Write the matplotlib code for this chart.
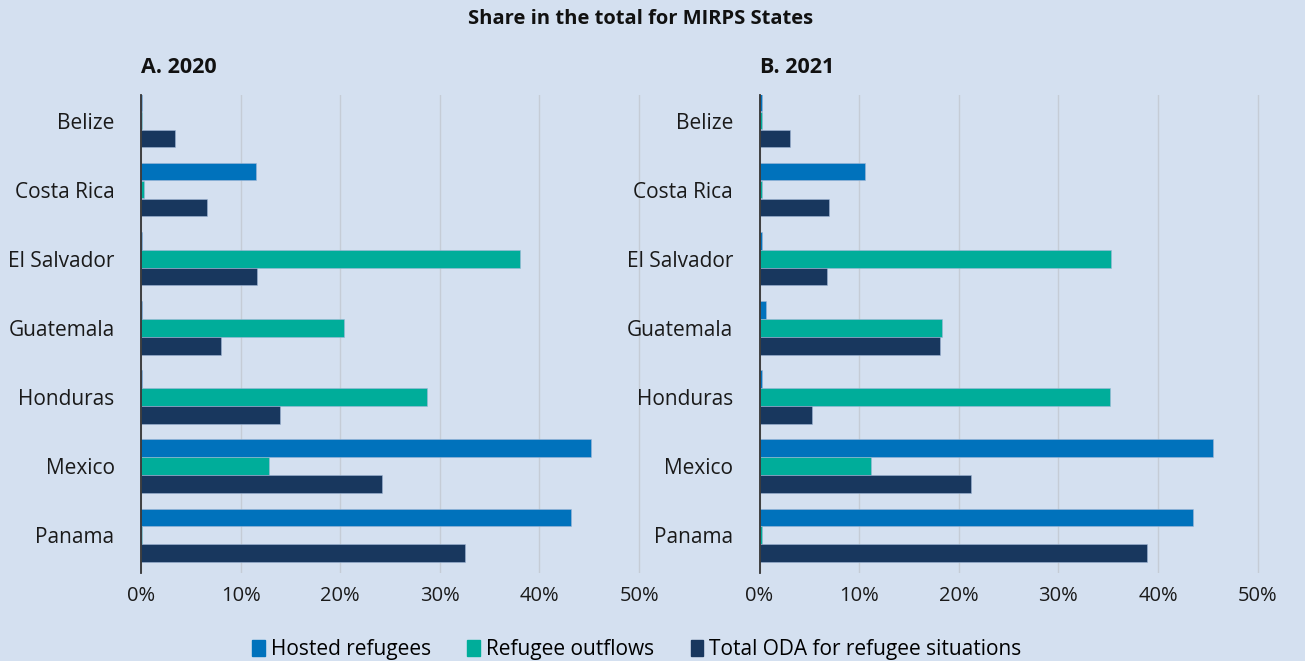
import matplotlib.pyplot as plt
import matplotlib.patches as mpatches
import numpy as np

plt.rcParams['font.family'] = ['Open Sans', 'DejaVu Sans']

countries = ["Belize", "Costa Rica", "El Salvador", "Guatemala", "Honduras", "Mexico", "Panama"]
series_names = ["Hosted refugees", "Refugee outflows", "Total ODA for refugee situations"]

# shares in %
hosted_2020 = [0.15, 11.5, 0.15, 0.15, 0.15, 45.2, 43.2]
outflows_2020 = [0.15, 0.3, 38.0, 20.4, 28.7, 12.9, 0.15]
oda_2020 = [3.4, 6.6, 11.6, 8.0, 14.0, 24.2, 32.5]

hosted_2021 = [0.25, 10.6, 0.25, 0.65, 0.25, 45.5, 43.5]
outflows_2021 = [0.25, 0.25, 35.3, 18.3, 35.2, 11.2, 0.25]
oda_2021 = [3.1, 7.0, 6.8, 18.1, 5.3, 21.2, 38.9]

xticks = [0, 10, 20, 30, 40, 50]
xtick_labels = ["0%", "10%", "20%", "30%", "40%", "50%"]

bg = "#d4e0f0"
colors = ["#0072bc", "#00ad9a", "#18375e"]

fig = plt.figure(figsize=(13.05, 6.61), dpi=100, facecolor=bg)

panels = [
    ("A. 2020", [hosted_2020, outflows_2020, oda_2020], [0.108, 0.133, 0.384, 0.724]),
    ("B. 2021", [hosted_2021, outflows_2021, oda_2021], [0.582, 0.133, 0.384, 0.724]),
]

y = np.arange(len(countries))
offsets = [-0.26, 0, 0.26]

for title, data, pos in panels:
    ax = fig.add_axes(pos)
    ax.set_facecolor(bg)
    for vals, off, col in zip(data, offsets, colors):
        ax.barh(y + off, vals, height=0.25, color=col, edgecolor="#9fb6d6", linewidth=0.4, zorder=3)
    ax.set_xlim(0, 50.3)
    ax.set_ylim(6.55, -0.38)
    ax.set_yticks(y)
    ax.set_yticklabels(countries)
    ax.set_xticks(xticks)
    ax.set_xticklabels(xtick_labels)
    ax.tick_params(axis="y", length=0, pad=19, labelsize=15, labelcolor="#1a1a1a")
    ax.tick_params(axis="x", length=0, pad=9, labelsize=14.5, labelcolor="#1a1a1a")
    ax.grid(axis="x", color="#c5ccd6", linewidth=1, zorder=0)
    for s in ["top", "right", "bottom"]:
        ax.spines[s].set_visible(False)
    ax.spines["left"].set_color("#333333")
    ax.spines["left"].set_linewidth(1.3)
    ax.spines["left"].set_zorder(4)
    ax.text(0, 1.035, title, transform=ax.transAxes, fontsize=15.5, fontweight="bold",
            ha="left", va="bottom", color="#111111")

fig.text(0.491, 0.971, "Share in the total for MIRPS States", ha="center", va="center",
         fontsize=14.5, fontweight="bold", color="#111111")

handles = [mpatches.Patch(color=c, label=n) for c, n in zip(colors, series_names)]
fig.legend(handles=handles, loc="center", bbox_to_anchor=(0.488, 0.017), ncol=3,
           frameon=False, fontsize=15, handlelength=0.6, handleheight=0.8,
           handletextpad=0.3, columnspacing=1.75, borderpad=0)

fig.savefig("out.png", dpi=100, facecolor=bg)
